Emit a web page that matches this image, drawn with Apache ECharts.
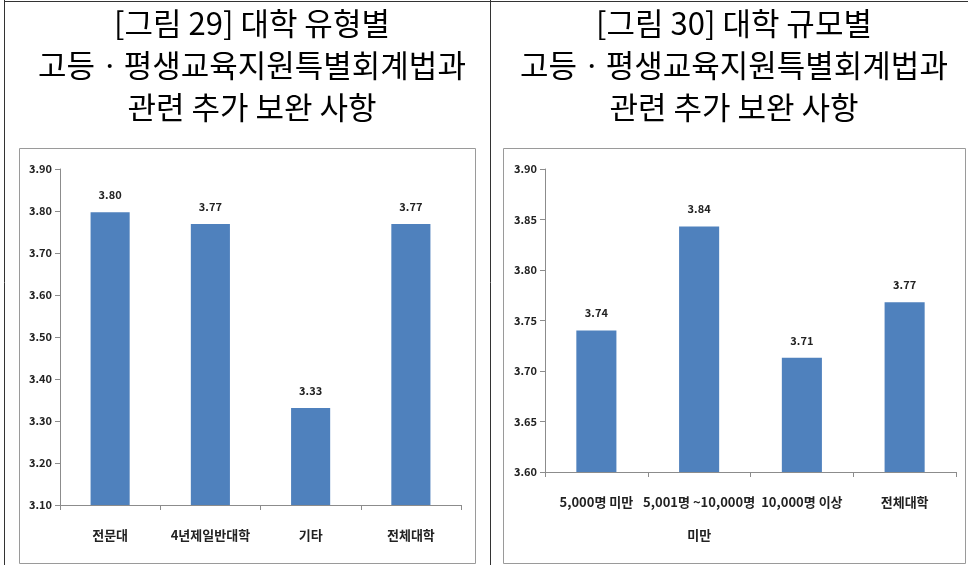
<!DOCTYPE html>
<html>
<head>
<meta charset="utf-8">
<script src="https://cdn.jsdelivr.net/npm/echarts@6/dist/echarts.min.js"></script>
<style>
html,body{margin:0;padding:0;background:#fff;}
#chart{width:968px;height:565px;}
</style>
</head>
<body>
<div id="chart"></div>
<script>
// Data
const titleLeft = "[그림 29] 대학 유형별\n고등ㆍ평생교육지원특별회계법과\n관련 추가 보완 사항";
const titleRight = "[그림 30] 대학 규모별\n고등ㆍ평생교육지원특별회계법과\n관련 추가 보완 사항";
const catsLeft = ["전문대", "4년제일반대학", "기타", "전체대학"];
const valsLeft = [3.797, 3.769, 3.331, 3.769];
const catsRight = ["5,000명 미만", "5,001명 ~10,000명\n미만", "10,000명 이상", "전체대학"];
const valsRight = [3.740, 3.843, 3.713, 3.768];
const yLeft = { min: 3.10, max: 3.90, interval: 0.10 };
const yRight = { min: 3.60, max: 3.90, interval: 0.05 };

const FONT = '"Noto Sans CJK KR", "Noto Sans", sans-serif';
const BAR = '#4F81BD';
const AXIS = '#8c8c8c';

const chart = echarts.init(document.getElementById('chart'), null, { renderer: 'canvas' });

function yAxis(idx, cfg) {
  return {
    type: 'value', gridIndex: idx, min: cfg.min, max: cfg.max, interval: cfg.interval,
    axisLine: { show: true, lineStyle: { color: AXIS, width: 1 } },
    axisTick: { show: true, length: 5, lineStyle: { color: AXIS } },
    splitLine: { show: false },
    axisLabel: { fontFamily: FONT, fontSize: 11, fontWeight: 'bold', color: '#222', margin: 8,
      formatter: v => v.toFixed(2) }
  };
}
function xAxis(idx, cats) {
  return {
    type: 'category', gridIndex: idx, data: cats,
    axisLine: { show: true, lineStyle: { color: AXIS, width: 1 } },
    axisTick: { show: true, alignWithLabel: false, length: 5, lineStyle: { color: AXIS } },
    axisLabel: { fontFamily: FONT, fontSize: 13, fontWeight: 'bold', color: '#222', margin: 14,
      lineHeight: 33, interval: 0 }
  };
}
function bar(idx, vals) {
  return {
    type: 'bar', xAxisIndex: idx, yAxisIndex: idx, data: vals, barWidth: '39%',
    itemStyle: { color: BAR },
    label: { show: true, position: 'top', distance: 12, fontFamily: FONT, fontSize: 11,
      fontWeight: 'bold', color: '#222', formatter: p => p.value.toFixed(2) }
  };
}

const titleStyle = { fontFamily: FONT, fontSize: 31, fontWeight: 'normal', color: '#000', lineHeight: 42 };

chart.setOption({
  animation: false,
  backgroundColor: '#fff',
  title: [
    { text: titleLeft, left: 247, top: -3, textAlign: 'center', textStyle: titleStyle },
    { text: titleRight, left: 729, top: -3, textAlign: 'center', textStyle: titleStyle }
  ],
  grid: [
    { left: 60, width: 401, top: 169, height: 336 },
    { left: 545, width: 411, top: 169, height: 303 }
  ],
  xAxis: [xAxis(0, catsLeft), xAxis(1, catsRight)],
  yAxis: [yAxis(0, yLeft), yAxis(1, yRight)],
  series: [bar(0, valsLeft), bar(1, valsRight)],
  graphic: [
    { type: 'line', shape: { x1: 4.5, y1: 0, x2: 4.5, y2: 565 }, style: { stroke: '#333', lineWidth: 1 } },
    { type: 'line', shape: { x1: 4, y1: 1.5, x2: 968, y2: 1.5 }, style: { stroke: '#333', lineWidth: 1 } },
    { type: 'line', shape: { x1: 490.5, y1: 0, x2: 490.5, y2: 565 }, style: { stroke: '#333', lineWidth: 1 } },
    { type: 'rect', shape: { x: 19.5, y: 148.5, width: 456, height: 415 }, style: { fill: 'none', stroke: '#9a9a9a', lineWidth: 1 }, z: -1 },
    { type: 'rect', shape: { x: 503.5, y: 148.5, width: 462, height: 415 }, style: { fill: 'none', stroke: '#9a9a9a', lineWidth: 1 }, z: -1 }
  ]
});
</script>
</body>
</html>
